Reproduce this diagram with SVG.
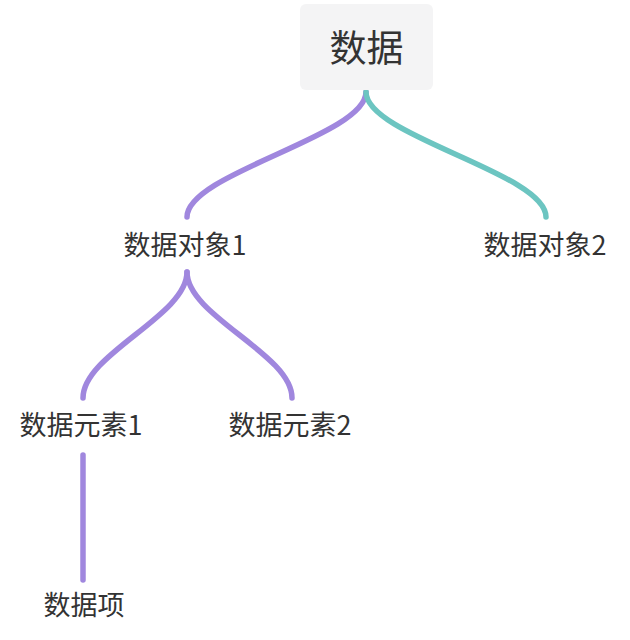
<svg xmlns="http://www.w3.org/2000/svg" width="630" height="640" viewBox="0 0 630 640">
<style>
text{font-family:"Noto Sans CJK SC","Microsoft YaHei",sans-serif;fill:#333333;text-anchor:middle}
.t{font-size:27px}
.root{font-size:37px}
.c{fill:none;stroke-width:5.5;stroke-linecap:round}
.p{stroke:#a087de}
.g{stroke:#6cc5c1}
</style>
<rect width="630" height="640" fill="#ffffff"/>
<g id="connectors">
<path class="c p" d="M366,92 C366,136 187,173 187,217"/>
<path class="c g" d="M366,92 C366,136 546,173 546,217"/>
<path class="c p" d="M187,272 C187,316 83,354 83,398"/>
<path class="c p" d="M187,272 C187,316 292,354 292,398"/>
<path class="c p" d="M83,455 L83,580"/>
</g>
<g id="root">
<rect x="300" y="4" width="133" height="86" rx="6" fill="#f4f4f5"/>
<text class="root" x="366.5" y="62">数据</text>
</g>
<g id="obj1"><text class="t" x="185" y="255">数据对象1</text></g>
<g id="obj2"><text class="t" x="545" y="255">数据对象2</text></g>
<g id="elem1"><text class="t" x="81" y="435">数据元素1</text></g>
<g id="elem2"><text class="t" x="290" y="435">数据元素2</text></g>
<g id="item"><text class="t" x="84" y="615">数据项</text></g>
</svg>
